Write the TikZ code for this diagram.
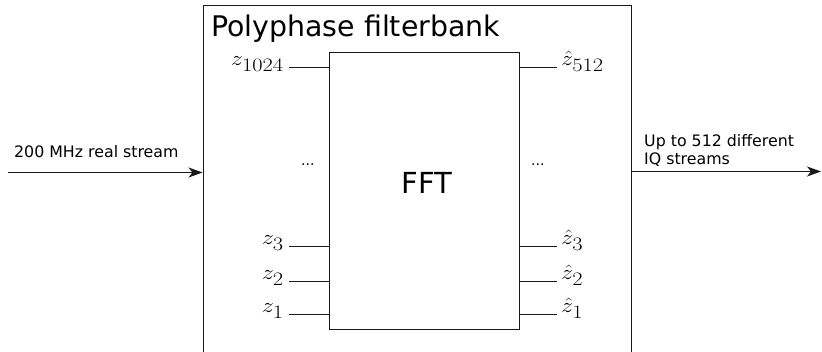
\documentclass[tikz,border=0pt]{standalone}
\usepackage[no-math]{fontspec}
\newfontfamily\dvs{DejaVu Sans}
\usepackage{graphicx}
\usetikzlibrary{arrows.meta}
\newcommand{\mstretch}[1]{\scalebox{1.18}[1]{$#1$}}
\newcommand{\bigsub}[1]{_{\mbox{\fontsize{19}{22}\selectfont #1}}}
\tikzset{
  box/.style={draw=black!90, line width=1pt, inner sep=0pt},
  ln/.style={draw=black!90, line width=1pt},
  arr/.style={draw=black!90, line width=1pt, -{Stealth[length=14pt,width=10pt,inset=4pt]}},
  sans/.style={font=\dvs\fontsize{15.8}{18}\selectfont, inner sep=0pt},
  dots/.style={font=\dvs\fontsize{14}{16}\selectfont, inner sep=0pt, anchor=base west},
  mlabl/.style={font=\fontsize{22}{26}\selectfont, inner sep=0pt, anchor=base east},
  mlabr/.style={font=\fontsize{22}{26}\selectfont, inner sep=0pt, anchor=base west}
}
\begin{document}
\begin{tikzpicture}[x=1pt, y=-1pt]
\useasboundingbox (0,0) rectangle (822,352);
\clip (0,0) rectangle (822,352);
% outer box (bottom edge lies below the picture)
\node[box, minimum width=428pt, minimum height=380pt, anchor=north west] (pfb) at (202.5,5.5) {};
\node[anchor=base west, font=\dvs\fontsize{28.4}{33}\selectfont, inner sep=0pt] (title) at (211,37) {Polyphase filterbank};
% FFT box
\node[box, minimum width=190pt, minimum height=277pt, anchor=north west] (fft) at (328.5,52.5) {};
\node[font=\dvs\fontsize{29}{34}\selectfont, inner sep=0pt] (fftlabel) at (427,183) {FFT};
% input ports
\coordinate (a4) at (289,67.5);
\coordinate (a3) at (289,246.5);
\coordinate (a2) at (289,281.5);
\coordinate (a1) at (289,314.5);
\draw[ln] (a4) -- (a4 -| fft.west);
\draw[ln] (a3) -- (a3 -| fft.west);
\draw[ln] (a2) -- (a2 -| fft.west);
\draw[ln] (a1) -- (a1 -| fft.west);
\node[mlabl] (z4) at ([xshift=-5pt,yshift=1.5pt]a4) {\mstretch{z\bigsub{1024}}};
\node[mlabl] (z3) at ([xshift=-5pt,yshift=1.5pt]a3) {\mstretch{z\bigsub{3}}};
\node[mlabl] (z2) at ([xshift=-5pt,yshift=1.5pt]a2) {\mstretch{z\bigsub{2}}};
\node[mlabl] (z1) at ([xshift=-5pt,yshift=1.5pt]a1) {\mstretch{z\bigsub{1}}};
% output ports
\coordinate (b4) at (557,67.5);
\coordinate (b3) at (557,246.5);
\coordinate (b2) at (557,281.5);
\coordinate (b1) at (557,314.5);
\draw[ln] (b4 -| fft.east) -- (b4);
\draw[ln] (b3 -| fft.east) -- (b3);
\draw[ln] (b2 -| fft.east) -- (b2);
\draw[ln] (b1 -| fft.east) -- (b1);
\node[mlabr] (y4) at ([xshift=4pt,yshift=1.5pt]b4) {\mstretch{\hat{z}\bigsub{512}}};
\node[mlabr] (y3) at ([xshift=4pt,yshift=1.5pt]b3) {\mstretch{\hat{z}\bigsub{3}}};
\node[mlabr] (y2) at ([xshift=4pt,yshift=1.5pt]b2) {\mstretch{\hat{z}\bigsub{2}}};
\node[mlabr] (y1) at ([xshift=4pt,yshift=1.5pt]b1) {\mstretch{\hat{z}\bigsub{1}}};
% dots
\node[dots] (ldots) at (301,166) {...};
\node[dots] (rdots) at (531,166) {...};
% streams
\coordinate (src) at (8,172.5);
\coordinate (dst) at (821,171.5);
\draw[arr] (src) -- (src -| pfb.west);
\draw[arr] (dst -| pfb.east) -- (dst);
\node[sans, anchor=base west] (inlab) at (14,158) {200 MHz real stream};
\node[sans, anchor=north west, align=left] (outlab) at (644,134) {Up to 512 different\\IQ streams};
\end{tikzpicture}
\end{document}
